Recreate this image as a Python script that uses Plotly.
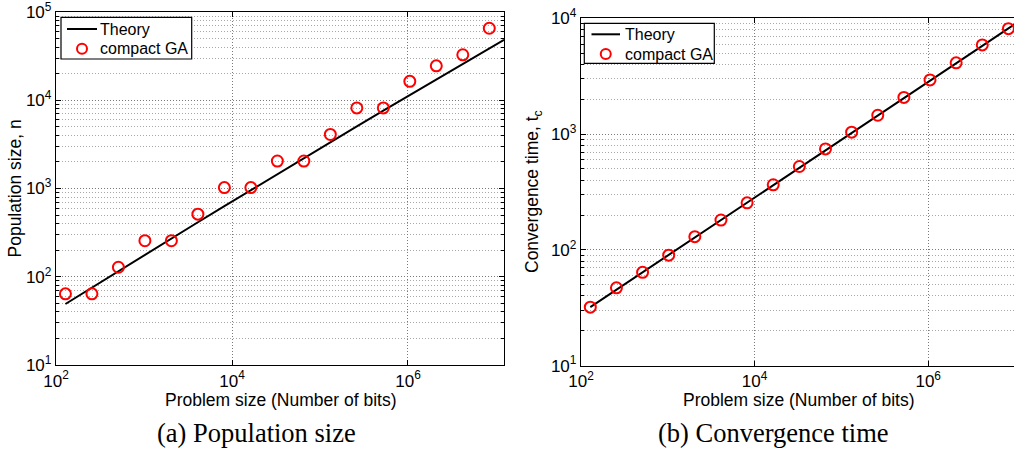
import plotly.graph_objects as go

# ---------------- data ----------------
problem_size = [128, 256, 512, 1024, 2048, 4096, 8192, 16384, 32768, 65536,
                131072, 262144, 524288, 1048576, 2097152, 4194304, 8388608]

# (a) population size
pop_cga = [64, 64, 128, 256, 256, 512, 1024, 1024, 2048, 2048,
           4096, 8192, 8192, 16384, 24576, 32768, 65536]
theory_x = problem_size + [12330000]
pop_theory = [49.1, 75.5, 115.8, 177.5, 271.4, 414.3, 631.2, 960.3, 1458, 2211,
              3344, 5052, 7619, 11470, 17240, 25840, 38710, 48420]

# (b) convergence time
tc_cga = [32, 47, 64, 90, 130, 181, 255, 365, 525, 745,
          1040, 1455, 2075, 2940, 4130, 5900, 8150]
tc_theory = [32, 45.3, 64, 90.5, 128, 181, 256, 362, 512, 724,
             1024, 1448, 2048, 2896, 4096, 5793, 8192, 9930]

series_names = ["Theory", "compact GA"]

x_ticks = [1e2, 1e4, 1e6]
x_ticktext = ["10<sup>2</sup>", "10<sup>4</sup>", "10<sup>6</sup>"]
y1_ticks = [1e1, 1e2, 1e3, 1e4, 1e5]
y1_ticktext = ["10<sup>1</sup>", "10<sup>2</sup>", "10<sup>3</sup>", "10<sup>4</sup>", "10<sup>5</sup>"]
y2_ticks = [1e1, 1e2, 1e3, 1e4]
y2_ticktext = ["10<sup>1</sup>", "10<sup>2</sup>", "10<sup>3</sup>", "10<sup>4</sup>"]

# ---------------- figure ----------------
W, H = 1014, 451
SANS = "Liberation Sans, Arial, Helvetica, sans-serif"
SERIF = "Liberation Serif, Times New Roman, serif"

fig = go.Figure()

line_style = dict(color="black", width=2)
marker_style = dict(symbol="circle-open", size=11, color="red", line=dict(color="red", width=2))

fig.add_trace(go.Scatter(x=theory_x, y=pop_theory, mode="lines", name=series_names[0],
                         line=line_style, xaxis="x", yaxis="y", showlegend=False))
fig.add_trace(go.Scatter(x=problem_size, y=pop_cga, mode="markers", name=series_names[1],
                         marker=marker_style, xaxis="x", yaxis="y", showlegend=False))
fig.add_trace(go.Scatter(x=theory_x, y=tc_theory, mode="lines", name=series_names[0],
                         line=line_style, xaxis="x2", yaxis="y2", showlegend=False))
fig.add_trace(go.Scatter(x=problem_size, y=tc_cga, mode="markers", name=series_names[1],
                         marker=marker_style, xaxis="x2", yaxis="y2", showlegend=False))

def px_x(p):
    return p / W

def px_y(p):
    return (H - p) / H

grid_major = "#7a7a7a"
grid_minor = "#a8a8a8"
dash = "1px,2px"

common_x = dict(type="log", tickmode="array", tickvals=x_ticks, ticktext=x_ticktext,
                showline=True, linecolor="black", linewidth=1.3, mirror="ticks",
                ticks="inside", ticklen=5, tickcolor="black", automargin=False,
                ticklabeloverflow="allow",
                showgrid=True, gridcolor=grid_major, griddash=dash, gridwidth=1,
                zeroline=False, tickfont=dict(family=SANS, size=17, color="black"))

def y_axis(domain, rng, tv, tt, mirror):
    return dict(type="log", domain=domain, range=rng, tickmode="array", tickvals=tv, ticktext=tt,
                showline=True, linecolor="black", linewidth=1.3, mirror=mirror,
                ticks="inside", ticklen=5, tickcolor="black", automargin=False,
                ticklabeloverflow="allow",
                showgrid=True, gridcolor=grid_major, griddash=dash, gridwidth=1,
                minor=dict(dtick="D1", ticks="inside", ticklen=3, tickcolor="black",
                           showgrid=True, gridcolor=grid_minor, griddash=dash, gridwidth=1),
                zeroline=False, tickfont=dict(family=SANS, size=17, color="black"))

fig.update_layout(
    width=W, height=H,
    margin=dict(l=0, r=0, t=0, b=0, autoexpand=False),
    paper_bgcolor="white", plot_bgcolor="white",
    showlegend=False,
    xaxis=dict(common_x, domain=[px_x(56), px_x(504)], range=[2, 7.091], anchor="y"),
    yaxis=y_axis([px_y(365), px_y(12)], [0.9995, 5.0005], y1_ticks, y1_ticktext, "ticks") | dict(anchor="x"),
    xaxis2=dict(common_x, domain=[px_x(581), 1.0], range=[2, 6.988], anchor="y2"),
    yaxis2=y_axis([px_y(365.7), px_y(18.3)], [0.9995, 4.0005], y2_ticks, y2_ticktext, False) | dict(anchor="x2"),
)

# ---------------- legends (drawn in paper coordinates) ----------------
def add_legend(x0, y0, w, h, line_x0, line_x1, row1_y, row2_y, text_x):
    fig.add_shape(type="rect", xref="paper", yref="paper",
                  x0=px_x(x0), x1=px_x(x0 + w), y0=px_y(y0 + h), y1=px_y(y0),
                  line=dict(color="black", width=1.2), fillcolor="white", layer="above")
    fig.add_shape(type="line", xref="paper", yref="paper",
                  x0=px_x(line_x0), x1=px_x(line_x1), y0=px_y(row1_y), y1=px_y(row1_y),
                  line=dict(color="black", width=2), layer="above")
    cx = (line_x0 + line_x1) / 2
    r = 5
    fig.add_shape(type="circle", xref="paper", yref="paper",
                  x0=px_x(cx - r), x1=px_x(cx + r), y0=px_y(row2_y + r), y1=px_y(row2_y - r),
                  line=dict(color="red", width=2), layer="above")
    for name, yy in zip(series_names, [row1_y, row2_y]):
        fig.add_annotation(xref="paper", yref="paper", x=px_x(text_x), y=px_y(yy),
                           text=name, showarrow=False, xanchor="left", yanchor="middle",
                           font=dict(family=SANS, size=16, color="black"))

add_legend(61, 17.3, 130.7, 41.7, 67, 97, 29, 48.7, 98)
add_legend(584.3, 23.3, 130, 40, 591.5, 620, 34.3, 54, 622.5)

# ---------------- axis titles and captions ----------------
ann_font = dict(family=SANS, size=17.5, color="black")
annotations = [
    dict(text="Problem size (Number of bits)", x=px_x(280), y=px_y(400), font=ann_font),
    dict(text="Problem size (Number of bits)", x=px_x(798), y=px_y(400), font=ann_font),
    dict(text="Population size, n", x=px_x(14), y=px_y(188.5), textangle=-90, font=ann_font),
    dict(text="Convergence time, t<sub>c</sub>", x=px_x(533), y=px_y(192), textangle=-90, font=ann_font),
    dict(text="(a) Population size", x=px_x(256), y=px_y(433),
         font=dict(family=SERIF, size=26.5, color="black")),
    dict(text="(b) Convergence time", x=px_x(773), y=px_y(433),
         font=dict(family=SERIF, size=26.5, color="black")),
]
for a in annotations:
    fig.add_annotation(xref="paper", yref="paper", showarrow=False,
                       xanchor="center", yanchor="middle", **a)

fig.write_html("out.html")
